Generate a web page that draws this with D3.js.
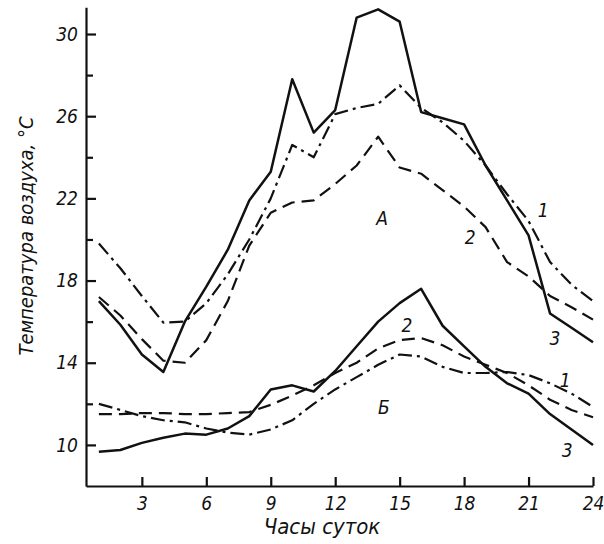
<!DOCTYPE html>
<html><head><meta charset="utf-8">
<script src="https://cdn.jsdelivr.net/npm/d3@7"></script>
<style>
body{margin:0;background:#fff;}
svg text{font-family:"Liberation Sans Narrow","DejaVu Sans Condensed","DejaVu Sans",sans-serif;font-style:italic;fill:#111;}
</style></head><body>
<svg id="c" width="604" height="544"></svg>
<script>
const hours = [1,2,3,4,5,6,7,8,9,10,11,12,13,14,15,16,17,18,19,20,21,22,23,24];
// А – curves 1 (dash-dot), 2 (dashed), 3 (solid)
const a1 = [19.8,18.6,17.25,15.95,16.0,16.9,18.3,20.0,22.0,24.6,24.0,26.1,26.4,26.6,27.5,26.4,25.7,24.8,23.6,22.2,20.9,18.9,17.8,17.0];
const a2 = [17.2,16.3,15.15,14.1,14.0,15.1,17.0,19.7,21.3,21.8,21.9,22.7,23.6,25.0,23.5,23.2,22.4,21.6,20.6,18.9,18.2,17.25,16.7,16.1];
const a3 = [17.0,15.85,14.4,13.55,16.0,17.7,19.5,21.9,23.3,27.8,25.2,26.3,30.8,31.2,30.6,26.2,25.9,25.6,23.6,21.9,20.2,16.4,15.7,15.0];
// Б – curves 1 (dash-dot), 2 (dashed), 3 (solid)
const b1 = [12.0,11.7,11.4,11.2,11.1,10.8,10.6,10.5,10.75,11.2,12.0,12.7,13.3,13.9,14.4,14.3,13.8,13.5,13.5,13.55,13.4,13.0,12.5,11.85];
const b2 = [11.5,11.5,11.55,11.55,11.5,11.5,11.55,11.6,11.95,12.4,12.9,13.5,14.0,14.7,15.1,15.2,14.85,14.3,13.9,13.5,12.9,12.2,11.7,11.35];
const b3 = [9.67,9.75,10.1,10.35,10.55,10.5,10.8,11.4,12.7,12.9,12.6,13.6,14.8,16.0,16.9,17.6,15.8,14.8,13.8,13.0,12.5,11.5,10.75,10.0];

const xTicks = [3,6,9,12,15,18,21,24];
const yMajor = [10,14,18,22,26,30];
const yMinor = [12,16,20,24,28];
const xTitle = "Часы суток";
const yTitle = "Температура воздуха, °С";
const notes = [
  {t:"А", h:14.18, v:21.04},
  {t:"1", h:21.68, v:21.43},
  {t:"2", h:18.28, v:20.12},
  {t:"3", h:22.23, v:15.2},
  {t:"Б", h:14.27, v:11.85},
  {t:"2", h:15.34, v:15.84},
  {t:"1", h:22.7, v:13.16},
  {t:"3", h:22.8, v:9.75}
];

const svg = d3.select("#c");
const x = d3.scaleLinear().domain([0.4,24]).range([86,593]);
const y = d3.scaleLinear().domain([8,31.3]).range([486,7.3]);

const styles = {
  solid:{w:2.5, dash:null},
  dashed:{w:2.2, dash:"13,7"},
  dashdot:{w:2.2, dash:"14,5,3,5"}
};
const series = [
  {v:a1, s:"dashdot"},{v:a2, s:"dashed"},{v:a3, s:"solid"},
  {v:b1, s:"dashdot"},{v:b2, s:"dashed"},{v:b3, s:"solid"}
];
const line = d3.line().x((d,i)=>x(hours[i])).y(d=>y(d));
series.forEach(sr=>{
  svg.append("path").attr("d", line(sr.v))
    .attr("fill","none").attr("stroke","#111")
    .attr("stroke-width", styles[sr.s].w)
    .attr("stroke-linejoin","round").attr("stroke-linecap","butt")
    .attr("stroke-dasharray", styles[sr.s].dash);
});

const font = '"Liberation Sans Narrow","DejaVu Sans Condensed","DejaVu Sans",sans-serif';
// axes
const gx = svg.append("g").attr("transform",`translate(0,${y(8)})`)
  .call(d3.axisBottom(x).tickValues(xTicks).tickSizeInner(-9).tickSizeOuter(0).tickPadding(11).tickFormat(d3.format("d")));
const gy = svg.append("g").attr("transform",`translate(${x(0.4)},0)`)
  .call(d3.axisLeft(y).tickValues(yMajor).tickSizeInner(-10).tickSizeOuter(0).tickPadding(8).tickFormat(d3.format("d")));
const gym = svg.append("g").attr("transform",`translate(${x(0.4)},0)`)
  .call(d3.axisLeft(y).tickValues(yMinor).tickSizeInner(-7).tickSizeOuter(0).tickFormat(""));
gym.select(".domain").remove();
[gx,gy,gym].forEach(g=>{
  g.selectAll("path,line").attr("stroke","#111").attr("stroke-width",2.2);
  g.selectAll("text").attr("font-size",19).attr("fill","#111")
    .style("font-family",font).style("font-style","italic");
});

svg.append("text").attr("x",322).attr("y",534).attr("text-anchor","middle")
  .attr("font-size",22).text(xTitle);
svg.append("text").attr("transform",`translate(33,236) rotate(-90)`).attr("text-anchor","middle")
  .attr("font-size",20).text(yTitle);

svg.selectAll(".note").data(notes).enter().append("text")
  .attr("x",d=>x(d.h)).attr("y",d=>y(d.v)).attr("dy","0.36em")
  .attr("text-anchor","middle").attr("font-size",19).text(d=>d.t);
</script></body></html>
